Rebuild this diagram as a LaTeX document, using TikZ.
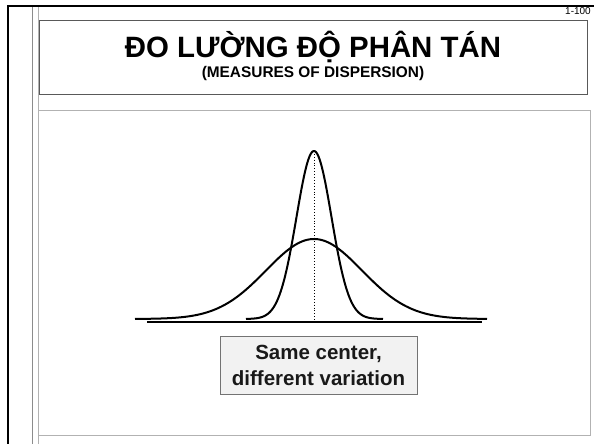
\documentclass[tikz,border=0pt]{standalone}
\usepackage{fontspec}
\setmainfont{Liberation Sans}
\usetikzlibrary{positioning}

\begin{document}
\begin{tikzpicture}[x=1pt, y=1pt]
\tikzstyle{titlebox} = [rectangle, draw=black!65, line width=0.9pt, fill=white, minimum width=548pt, minimum height=74pt, inner sep=0pt]
\tikzstyle{title} = [font=\bfseries\fontsize{29.4}{34}\selectfont, anchor=base, inner sep=0pt]
\tikzstyle{subtitle} = [font=\bfseries\fontsize{15.4}{18}\selectfont, anchor=base, inner sep=0pt]
\tikzstyle{labelbox} = [rectangle, draw=black!55, line width=0.9pt, fill=black!5, minimum width=197pt, minimum height=58pt, align=center, font=\bfseries\fontsize{20.5}{26}\selectfont, text=black!90]
\tikzstyle{curve} = [line width=2pt, line join=round]

\useasboundingbox (0,0) rectangle (594,444);

% slide frame
\draw[black!45, line width=0.8pt] (32,438) -- (32,0);
\draw[black!30, line width=0.8pt] (38,438) -- (38,0);
\draw[black!30, line width=0.8pt] (38,334) -- (590,334) -- (590,9) -- (38,9);
\draw[black, line width=2.6pt] (594,438) -- (8,438) -- (8,0);

\node (pageno) [font=\fontsize{10}{12}\selectfont, anchor=base east, inner sep=0pt] at (591,429) {1-100};

\node (header) [titlebox] at (313,387) {};
\node (title) [title] at (313,386) {ĐO LƯỜNG ĐỘ PHÂN TÁN};
\node (subtitle) [subtitle] at ([yshift=-20pt]title.base) {(MEASURES OF DISPERSION)};

% the two distributions
\draw[line width=1.7pt] (147,122) -- (482,122);
\draw[curve] plot[domain=135:487, samples=140] (\x, {125+80*exp(-0.5*((\x-314)/48)^2)});
\draw[curve] plot[domain=246:383, samples=120] (\x, {125+168*exp(-0.5*((\x-314)/17.5)^2)});
\draw[dotted, line width=0.9pt] (314,293) -- (314,122);

\node (caption) [labelbox] at (318.5,79) {Same center,\\ different variation};

\end{tikzpicture}
\end{document}
